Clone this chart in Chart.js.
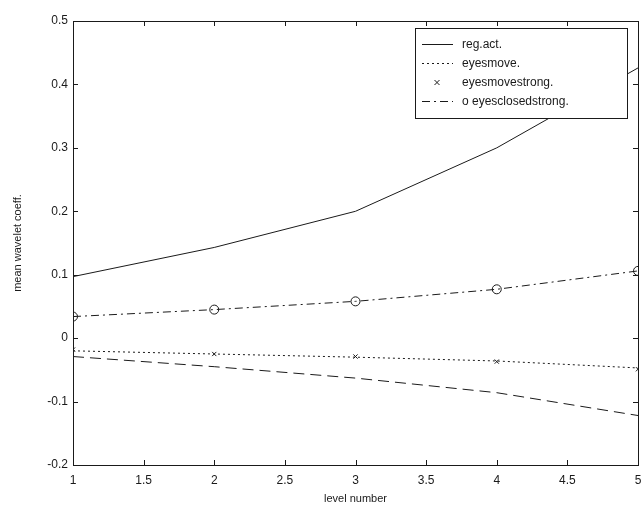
<!DOCTYPE html>
<html>
<head>
<meta charset="utf-8">
<script src="https://cdn.jsdelivr.net/npm/chart.js"></script>
<style>
html, body { margin: 0; padding: 0; background: #fff; }
#wrap { width: 644px; height: 513px; }
</style>
</head>
<body>
<div id="wrap"><canvas id="chart" width="644" height="513"></canvas></div>
<script>
let levels = [1, 2, 3, 4, 5]
let regAct = [0.097, 0.143, 0.2, 0.3, 0.426]
let eyesMove = [-0.02, -0.025, -0.03, -0.036, -0.047]
let eyesMoveStrong = [-0.018, -0.025, -0.029, -0.037, -0.049]
let eyesClosedStrong = [0.034, 0.045, 0.058, 0.077, 0.106]
let unlabeled = [-0.029, -0.045, -0.063, -0.086, -0.122]
let legendLabels = ["reg.act.", "eyesmove.", "eyesmovestrong.", "o eyesclosedstrong."]

let font = "'Liberation Sans', Arial, sans-serif"
let ink = "#1a1a1a"

function points(values) {
    return levels.map((l, i) => ({ x: l, y: values[i] }))
}

// frame, inward ticks on all four sides, and the boxed legend inside the plot
let matlabBox = {
    id: "matlabBox",
    afterDraw(chart) {
        let ctx = chart.ctx
        let a = chart.chartArea
        let xs = chart.scales.x
        let ys = chart.scales.y
        ctx.save()
        ctx.strokeStyle = ink
        ctx.lineWidth = 1
        ctx.setLineDash([])
        ctx.strokeRect(Math.round(a.left) + 0.5, Math.round(a.top) + 0.5,
            Math.round(a.right - a.left), Math.round(a.bottom - a.top))

        let len = 5
        ctx.beginPath()
        xs.ticks.forEach(t => {
            let px = Math.round(xs.getPixelForValue(t.value)) + 0.5
            ctx.moveTo(px, a.bottom); ctx.lineTo(px, a.bottom - len)
            ctx.moveTo(px, a.top); ctx.lineTo(px, a.top + len)
        })
        ys.ticks.forEach(t => {
            let py = Math.round(ys.getPixelForValue(t.value)) + 0.5
            ctx.moveTo(a.left, py); ctx.lineTo(a.left + len, py)
            ctx.moveTo(a.right, py); ctx.lineTo(a.right - len, py)
        })
        ctx.stroke()

        // legend box
        let bx = 415, by = 28, bw = 212, bh = 90
        ctx.fillStyle = "#fff"
        ctx.fillRect(bx, by, bw, bh)
        ctx.strokeRect(bx + 0.5, by + 0.5, bw, bh)

        ctx.font = "12px " + font
        ctx.fillStyle = ink
        ctx.textBaseline = "middle"
        ctx.textAlign = "left"
        let rowY = [44, 63, 82, 101]
        let items = chart.data.datasets.filter(d => d.label)
        items.forEach((d, i) => {
            let y = rowY[i] + 0.5
            if (d.showLine !== false) {
                ctx.setLineDash(d.borderDash || [])
                ctx.beginPath()
                ctx.moveTo(422, y); ctx.lineTo(453, y)
                ctx.stroke()
                ctx.setLineDash([])
            } else {
                let cx = 437, r = 2.5
                ctx.beginPath()
                ctx.moveTo(cx - r, y - r); ctx.lineTo(cx + r, y + r)
                ctx.moveTo(cx - r, y + r); ctx.lineTo(cx + r, y - r)
                ctx.stroke()
            }
            ctx.fillText(d.label, 462, y)
        })
        ctx.restore()
    }
}

new Chart(document.getElementById("chart").getContext("2d"), {
    type: "line",
    data: {
        datasets: [
            {
                label: legendLabels[0],
                data: points(regAct),
                borderColor: ink, borderWidth: 1, pointRadius: 0, tension: 0
            },
            {
                label: legendLabels[1],
                data: points(eyesMove),
                borderColor: ink, borderWidth: 1, borderDash: [2, 3], pointRadius: 0, tension: 0
            },
            {
                label: legendLabels[2],
                data: points(eyesMoveStrong),
                showLine: false, borderColor: ink, borderWidth: 1,
                pointStyle: "crossRot", pointRadius: 3
            },
            {
                label: legendLabels[3],
                data: points(eyesClosedStrong),
                borderColor: ink, borderWidth: 1, borderDash: [8, 4, 2, 4], tension: 0,
                pointStyle: "circle", pointRadius: 4.5,
                pointBackgroundColor: "rgba(0,0,0,0)", pointBorderColor: ink
            },
            {
                label: "",
                data: points(unlabeled),
                borderColor: ink, borderWidth: 1, borderDash: [11, 6], pointRadius: 0, tension: 0
            }
        ]
    },
    options: {
        responsive: false,
        animation: false,
        devicePixelRatio: 1,
        layout: { autoPadding: false, padding: { top: 21, right: 6, left: 0, bottom: 0 } },
        plugins: {
            legend: { display: false },
            tooltip: { enabled: false }
        },
        scales: {
            x: {
                type: "linear",
                min: 1, max: 5,
                afterFit: s => { s.height = 48; s.paddingLeft = 0; s.paddingRight = 0 },
                grid: { display: false, drawTicks: false },
                border: { display: false },
                ticks: {
                    stepSize: 0.5, padding: 8, color: ink,
                    font: { family: font, size: 12 },
                    maxRotation: 0,
                    callback: v => String(Math.round(v * 10) / 10)
                },
                title: {
                    display: true, text: "level number", color: ink,
                    font: { family: font, size: 11 },
                    padding: { top: 0, bottom: 7 }
                }
            },
            y: {
                min: -0.2, max: 0.5,
                afterFit: s => { s.width = 73; s.paddingTop = 0; s.paddingBottom = 0 },
                grid: { display: false, drawTicks: false },
                border: { display: false },
                ticks: {
                    stepSize: 0.1, padding: 5, color: ink,
                    font: { family: font, size: 12 },
                    callback: v => String(Math.round(v * 10) / 10)
                },
                title: {
                    display: true, text: "mean wavelet coeff.", color: ink,
                    font: { family: font, size: 11 },
                    padding: { top: 11, bottom: 0 }
                }
            }
        }
    },
    plugins: [matlabBox]
})
</script>
</body>
</html>
